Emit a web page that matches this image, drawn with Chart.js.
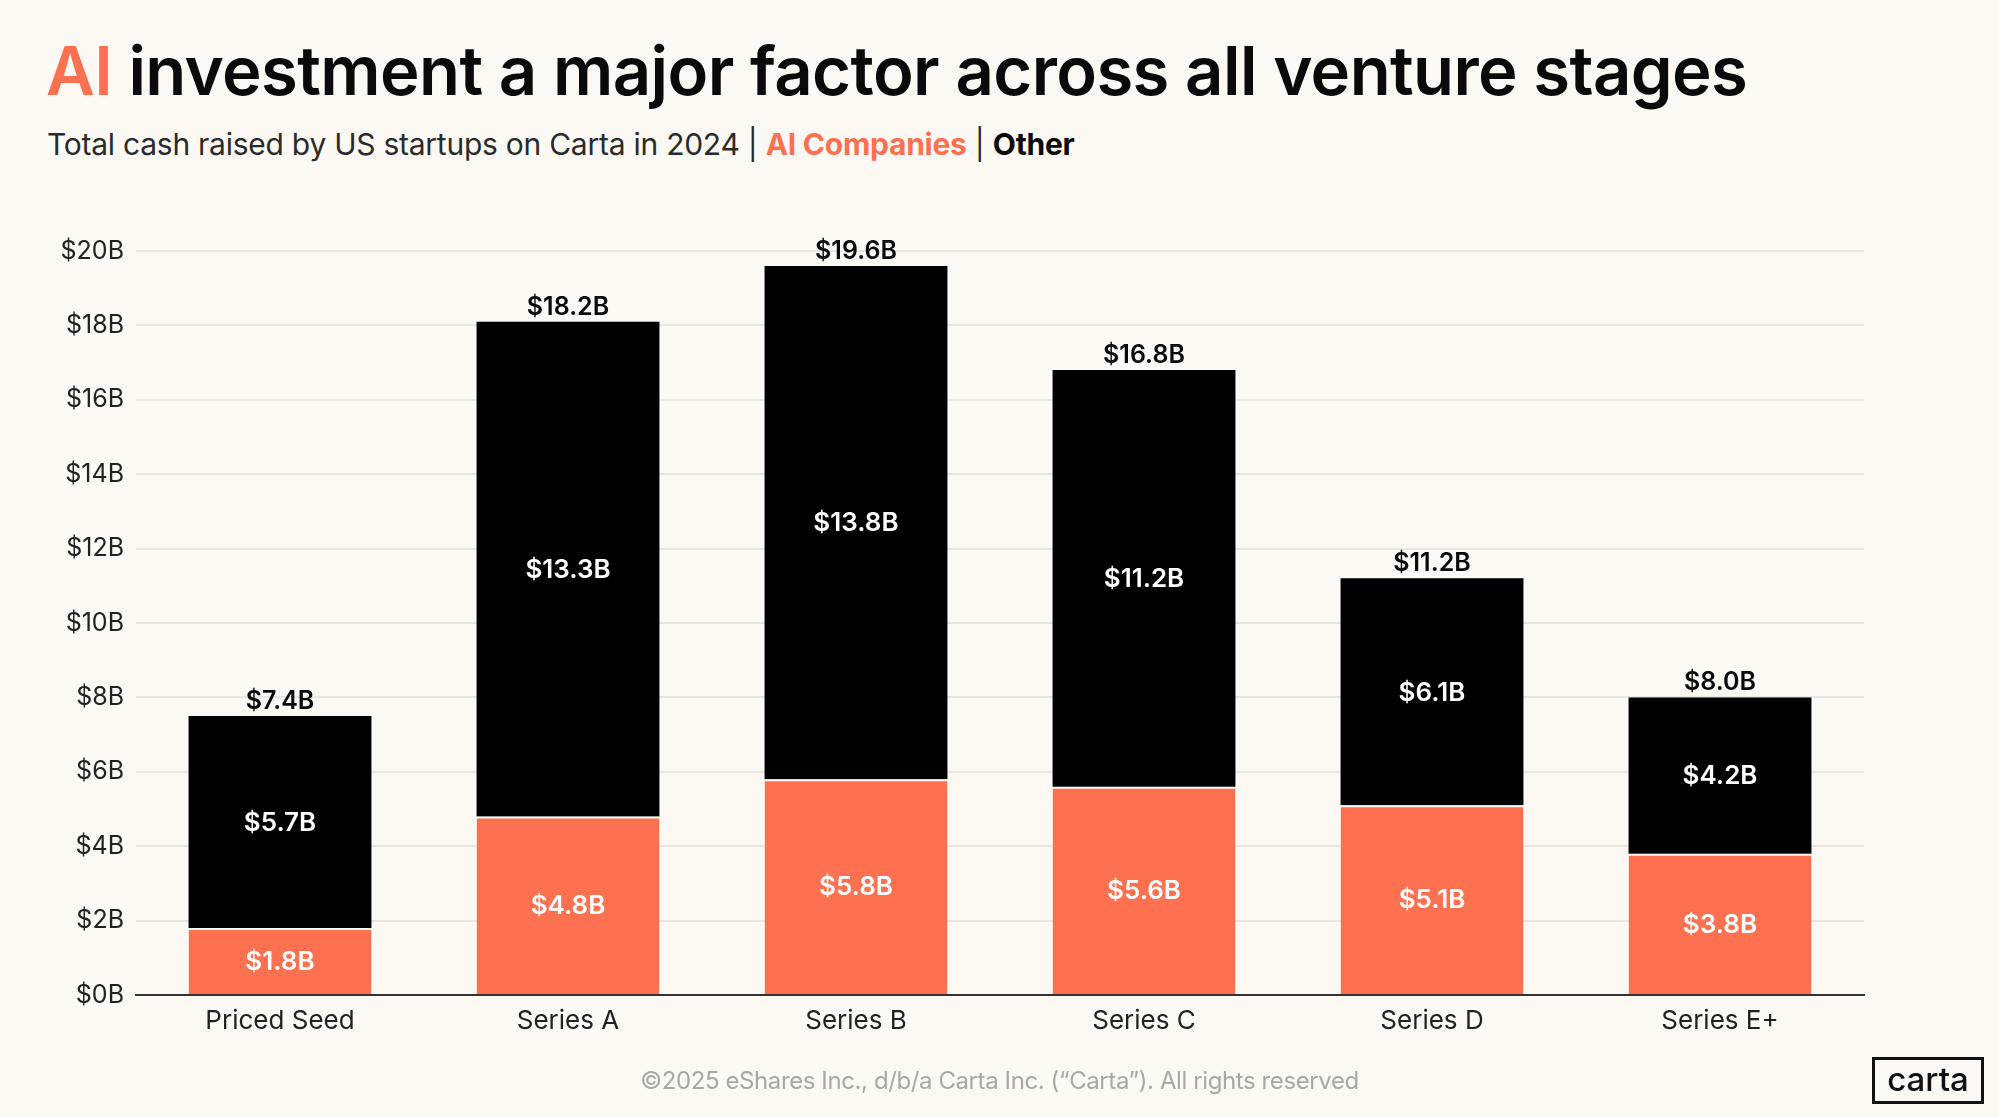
<!DOCTYPE html>
<html>
<head>
<meta charset="utf-8">
<script src="https://cdn.jsdelivr.net/npm/chart.js@4.4.1/dist/chart.umd.min.js"></script>
<style>
  html, body { margin: 0; padding: 0; background: #fcf9f5; }
  body { width: 1999px; height: 1117px; position: relative; overflow: hidden; font-family: Inter, "Noto Sans", sans-serif; }
  .title { position: absolute; left: 46px; top: 30px; font-size: 67px; font-weight: 600; color: #0a0a0a; letter-spacing: -0.6px; white-space: nowrap; }
  .title .ai { color: #fe7150; }
  .sub { position: absolute; left: 47px; top: 126px; font-size: 30px; font-weight: 400; color: #2a2a2a; white-space: nowrap; letter-spacing: -0.25px; }
  .sub .ai { color: #fe7150; font-weight: 700; }
  .sub .oth { color: #0a0a0a; font-weight: 700; }
  .chart-wrap { position: absolute; left: 0; top: 200px; width: 1999px; height: 870px; }
  .foot { position: absolute; left: 0; width: 1999px; top: 1066px; text-align: center; font-size: 24px; color: #a9a7a4; letter-spacing: -0.4px; }
  .logo { position: absolute; left: 1872px; top: 1057px; width: 106px; height: 41px; border: 3px solid #111; text-align: center; font-size: 33px; line-height: 38px; font-weight: 500; color: #111; }
</style>
</head>
<body>
<div class="title"><span class="ai">AI</span> investment a major factor across all venture stages</div>
<div class="sub">Total cash raised by US startups on Carta in 2024 | <span class="ai">AI Companies</span> | <span class="oth">Other</span></div>
<div class="chart-wrap"><canvas id="chart"></canvas></div>
<div class="foot">©2025 eShares Inc., d/b/a Carta Inc. (“Carta”). All rights reserved</div>
<div class="logo">carta</div>

<script>
/* ── Data ── */
const stages      = ['Priced Seed', 'Series A', 'Series B', 'Series C', 'Series D', 'Series E+'];
const aiValues    = [1.8, 4.8, 5.8, 5.6, 5.1, 3.8];
const otherValues = [5.7, 13.3, 13.8, 11.2, 6.1, 4.2];
const totals      = [7.4, 18.2, 19.6, 16.8, 11.2, 8.0];
const yTicks      = [0, 2, 4, 6, 8, 10, 12, 14, 16, 18, 20];

const ORANGE = '#fe7150';
const BG = '#fcf9f5';
const FONT = 'Inter, "Noto Sans", sans-serif';

const fmt = v => '$' + v.toFixed(1) + 'B';

/* ── Value labels ── */
const barLabels = {
  id: 'barLabels',
  afterDatasetsDraw(chart) {
    const c = chart.ctx;
    c.save();
    c.textAlign = 'center';
    chart.data.datasets.forEach((ds, i) => {
      const meta = chart.getDatasetMeta(i);
      meta.data.forEach((bar, j) => {
        c.fillStyle = '#ffffff';
        c.font = `600 26px ${FONT}`;
        c.textBaseline = 'middle';
        c.fillText(fmt(ds.data[j]), bar.x, (bar.y + bar.base) / 2 + 1);
      });
    });
    // totals on top
    const top = chart.getDatasetMeta(chart.data.datasets.length - 1);
    top.data.forEach((bar, j) => {
      c.fillStyle = '#0a0a0a';
      c.font = `600 25px ${FONT}`;
      c.textBaseline = 'bottom';
      c.fillText(fmt(totals[j]), bar.x, bar.y - 2);
    });
    c.restore();
  }
};

new Chart(document.getElementById('chart'), {
  type: 'bar',
  data: {
    labels: stages,
    datasets: [
      { label: 'AI Companies', data: aiValues, backgroundColor: ORANGE,
        borderColor: BG, borderWidth: { top: 2, left: 0, right: 0, bottom: 0 }, borderSkipped: false },
      { label: 'Other', data: otherValues, backgroundColor: '#000000' }
    ]
  },
  options: {
    responsive: true, maintainAspectRatio: false, animation: false,
    layout: { padding: { top: 51, right: 135, bottom: 0, left: 0 } },
    datasets: { bar: { categoryPercentage: 1, barPercentage: 0.635 } },
    plugins: { legend: { display: false }, tooltip: { enabled: false } },
    scales: {
      x: {
        stacked: true,
        grid: { display: false },
        border: { display: true, color: '#333333', width: 2 },
        ticks: { color: '#222', font: { family: FONT, size: 26 }, padding: 3 },
        afterFit: s => { s.height = 75; }
      },
      y: {
        stacked: true, min: 0, max: 20,
        afterBuildTicks: s => { s.ticks = yTicks.map(v => ({ value: v })); },
        grid: { color: '#e9e6e1', lineWidth: 2, drawTicks: false },
        border: { display: false },
        ticks: { color: '#222', font: { family: FONT, size: 25 }, padding: 12,
                 callback: v => '$' + v + 'B' },
        afterFit: s => { s.width = 136; }
      }
    }
  },
  plugins: [barLabels]
});
</script>
</body>
</html>
